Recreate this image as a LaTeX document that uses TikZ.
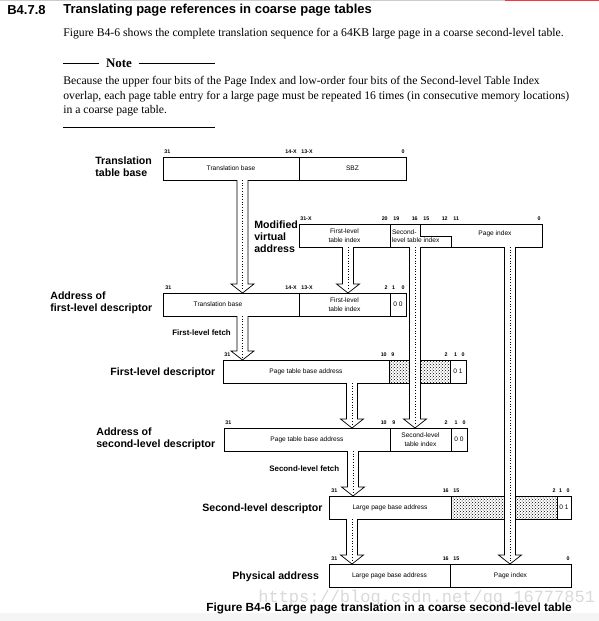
\documentclass[tikz,border=0pt]{standalone}
\usepackage{fontspec}
\setmainfont{Liberation Serif}
\setsansfont{Liberation Sans}
\setmonofont{Liberation Mono}
\usetikzlibrary{positioning}
\usetikzlibrary{calc}
\usetikzlibrary{patterns}

\tikzset{field/.style={draw, rectangle, minimum height=23pt, inner sep=0pt, outer sep=0pt, anchor=north west,
		font=\sffamily\fontsize{6.6}{8.5}\selectfont, align=center},
	dotfield/.style={field, pattern=crosshatch dots},
	bits/.style={inner sep=0pt, font=\sffamily\bfseries\fontsize{5.3}{6}\selectfont},
	rowlabel/.style={inner sep=0pt, anchor=west, align=left, font=\sffamily\bfseries\fontsize{10.6}{12}\selectfont},
	fetch/.style={inner sep=0pt, anchor=west, font=\sffamily\bfseries\fontsize{7.9}{9}\selectfont},
	body/.style={inner sep=0pt, anchor=west, font=\fontsize{11.7}{14.5}\selectfont}}

% wide hollow arrow with a dotted core, from a point straight down onto a field
\newcommand{\fatarrow}[2]{%
	\coordinate (arrS) at (#1);
	\coordinate (arrE) at (arrS |- #2.north);
	\draw[fill=white] ($(arrS)+(-5.5,0)$) -- ($(arrE)+(-5.5,-9)$) -- ($(arrE)+(-11.5,-9)$) -- (arrE)
		-- ($(arrE)+(11.5,-9)$) -- ($(arrE)+(5.5,-9)$) -- ($(arrS)+(5.5,0)$);
	\draw[dotted, line width=0.7pt] (arrS) -- ($(arrE)+(0,-3)$);
}

\begin{document}
\begin{tikzpicture}[x=1pt, y=-1pt, line width=0.7pt]
	\useasboundingbox (0,0) rectangle (599,621);
	\draw[gray!40, line width=0.8pt] (0,0.8) -- (599,0.8);
	\draw[red!80, line width=1.5pt] (505,0.5) -- (599,0.5);
	\fill[gray!8] (0,613) rectangle (599,621);

	% heading and note
	\node[inner sep=0pt, anchor=west, font=\sffamily\bfseries\fontsize{13}{15}\selectfont] (secnum) at (7,10) {B4.7.8};
	\node[inner sep=0pt, anchor=west, font=\sffamily\bfseries\fontsize{13}{15}\selectfont] (sectitle) at (63,10) {Translating page references in coarse page tables};
	\node[body] (intro) at (63,34) {Figure B4-6 shows the complete translation sequence for a 64KB large page in a coarse second-level table.};
	\node[inner ysep=3pt, inner xsep=6.5pt, font=\bfseries\fontsize{13}{15}\selectfont] (notehead) at (119,63) {Note};
	\draw (63,63) -- (notehead.west);
	\draw (notehead.east) -- (215,63);
	\node[body, align=left] (notebody) at (63,96.5) {Because the upper four bits of the Page Index and low-order four bits of the Second-level Table Index\\overlap, each page table entry for a large page must be repeated 16 times (in consecutive memory locations)\\in a coarse page table.};
	\draw (63,127) -- (215,127);

	% translation table base
	\node[rowlabel] (lbltb) at (95,167) {Translation\\table base};
	\node[field, minimum width=136pt] (tb1) at (163,157) {Translation base};
	\node[field, minimum width=107pt, right=0pt of tb1] (tb2) {SBZ};
	\foreach \t/\x/\a [count=\i] in {31/164/south west, 14-X/297/south east, 13-X/301/south west, 0/405/south east}
		\node[bits, anchor=\a] (bta\i) at (\x,154) {\t};

	% modified virtual address
	\node[rowlabel] (lblmva) at (254,237) {Modified\\virtual\\address};
	\node[field, minimum width=91pt] (mva1) at (299,224) {First-level\\table index};
	\node[field, minimum width=152pt, right=0pt of mva1] (mvarest) {};
	\draw ($(mvarest.north west)+(30,0)$) -- ++(0,12) -- ++(31,0) -- ++(0,11);
	\node[field, draw=none, minimum height=0pt, align=left, anchor=west] (mvasl) at (392,236) {Second-\\level table index};
	\node[field, draw=none, minimum height=0pt, anchor=center] (mvapi) at (495,234) {Page index};
	\foreach \t/\x/\a [count=\i] in {31-X/300/south west, 20/388/south east, 19/393/south west, 16/418/south east,
			15/423/south west, 12/448/south east, 11/453/south west, 0/541/south east}
		\node[bits, anchor=\a] (btb\i) at (\x,221) {\t};

	% address of first-level descriptor
	\node[rowlabel] (lblfa) at (50,303) {Address of\\first-level descriptor};
	\node[field, minimum width=136pt] (fa1) at (163,293) {Translation base\hspace{26pt}};
	\node[field, minimum width=91pt, right=0pt of fa1] (fa2) {First-level\\table index};
	\node[field, minimum width=16pt, right=0pt of fa2] (fa3) {0 0};
	\foreach \t/\x/\a [count=\i] in {31/165/south west, 14-X/297/south east, 13-X/301/south west, 2/388/south east,
			1/393.5/south, 0/405/south east}
		\node[bits, anchor=\a] (btc\i) at (\x,290) {\t};
	\node[fetch] (fetch1) at (172,333) {First-level fetch};

	% first-level descriptor
	\node[rowlabel] (lblfd) at (110,373) {First-level descriptor};
	\node[field, minimum width=166pt] (fd1) at (223,360) {Page table base address};
	\node[dotfield, minimum width=61pt, right=0pt of fd1] (fd2) {};
	\node[field, minimum width=16pt, right=0pt of fd2] (fd3) {0 1};
	\foreach \t/\x/\a [count=\i] in {31/224/south west, 10/387/south east, 9/391/south west, 2/448/south east,
			1/455.5/south, 0/465/south east}
		\node[bits, anchor=\a] (btd\i) at (\x,357) {\t};

	% address of second-level descriptor
	\node[rowlabel] (lblsa) at (96,439) {Address of\\second-level descriptor};
	\node[field, minimum width=166pt] (sa1) at (224,428) {Page table base address};
	\node[field, minimum width=61pt, right=0pt of sa1] (sa2) {Second-level\\table index};
	\node[field, minimum width=16pt, right=0pt of sa2] (sa3) {0 0};
	\foreach \t/\x/\a [count=\i] in {31/225/south west, 10/387/south east, 9/392/south west, 2/448/south east,
			1/456/south, 0/466/south east}
		\node[bits, anchor=\a] (bte\i) at (\x,425) {\t};
	\node[fetch] (fetch2) at (269,469) {Second-level fetch};

	% second-level descriptor
	\node[rowlabel] (lblsd) at (202,509) {Second-level descriptor};
	\node[field, minimum width=122pt] (sd1) at (329,496) {Large page base address};
	\node[dotfield, minimum width=106pt, right=0pt of sd1] (sd2) {};
	\node[field, minimum width=14pt, right=0pt of sd2] (sd3) {0 1};
	\foreach \t/\x/\a [count=\i] in {31/331/south west, 16/449/south east, 15/453/south west, 2/556/south east,
			1/560.5/south, 0/570/south east}
		\node[bits, anchor=\a] (btf\i) at (\x,493) {\t};

	% physical address
	\node[rowlabel] (lblpa) at (232,577) {Physical address};
	\node[field, minimum width=121pt] (pa1) at (329,564) {Large page base address};
	\node[field, minimum width=121pt, right=0pt of pa1] (pa2) {Page index};
	\foreach \t/\x/\a [count=\i] in {31/331/south west, 16/449/south east, 15/453/south west, 0/570/south east}
		\node[bits, anchor=\a] (btg\i) at (\x,561) {\t};

	% data flow
	\fatarrow{$(tb1.south)+(11.5,0)$}{fa1}
	\fatarrow{$(mva1.south)+(3.5,0)$}{fa2}
	\fatarrow{$(mvarest.south west)+(25,0)$}{sa2}
	\fatarrow{$(mvarest.south east)+(-32,0)$}{pa2}
	\fatarrow{$(fa1.south)+(11.5,0)$}{fd1}
	\fatarrow{$(fd1.south)+(46,0)$}{sa1}
	\fatarrow{$(sa1.south)+(46,0)$}{sd1}
	\fatarrow{$(sd1.south)+(-38,0)$}{pa1}

	% caption
	\node[inner sep=0pt, anchor=west, text=gray!30, font=\ttfamily\fontsize{17}{17}\selectfont] (wmark) at (258,598) {https://blog.csdn.net/qq\_16777851};
	\node[inner sep=0pt, anchor=east, font=\sffamily\bfseries\fontsize{11.8}{13}\selectfont] (caption) at (572,608) {Figure B4-6 Large page translation in a coarse second-level table};
\end{tikzpicture}
\end{document}
